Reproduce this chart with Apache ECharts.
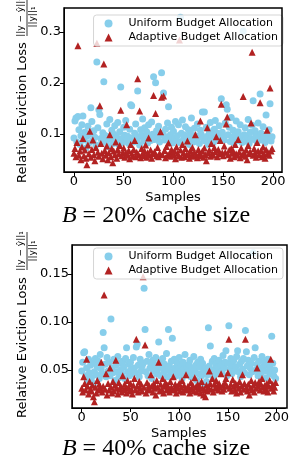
<!DOCTYPE html>
<html>
<head>
<meta charset="utf-8">
<script src="https://cdn.jsdelivr.net/npm/echarts@6.0.0/dist/echarts.min.js"></script>
<style>
body {
	margin: 0;
	background-color: #fff;
}
#main {
	width: 292px;
	height: 470px;
}
</style>
</head>
<body>
<div id="main"></div>
<script>

// relative eviction loss per sample
var uniform20 = [
  0.092, 0.125, 0.131, 0.084, 0.134, 0.108, 0.079, 0.096, 0.118, 0.135,
  0.088, 0.103, 0.072, 0.095, 0.115, 0.082, 0.099, 0.151, 0.124, 0.087,
  0.106, 0.093, 0.078, 0.241, 0.112, 0.147, 0.138, 0.091, 0.083, 0.102,
  0.202, 0.097, 0.086, 0.119, 0.075, 0.094, 0.128, 0.089, 0.107, 0.081,
  0.099, 0.116, 0.085, 0.093, 0.122, 0.079, 0.104, 0.192, 0.091, 0.083,
  0.113, 0.097, 0.126, 0.088, 0.095, 0.081, 0.109, 0.157, 0.155, 0.092,
  0.084, 0.101, 0.119, 0.087, 0.184, 0.094, 0.078, 0.108, 0.097, 0.129,
  0.086, 0.112, 0.091, 0.104, 0.082, 0.118, 0.095, 0.087, 0.123, 0.099,
  0.212, 0.089, 0.200, 0.106, 0.093, 0.115, 0.084, 0.097, 0.220, 0.101,
  0.180, 0.088, 0.109, 0.094, 0.121, 0.153, 0.086, 0.098, 0.113, 0.082,
  0.105, 0.092, 0.124, 0.087, 0.096, 0.118, 0.083, 0.329, 0.101, 0.127,
  0.089, 0.097, 0.114, 0.085, 0.093, 0.108, 0.079, 0.102, 0.131, 0.091,
  0.084, 0.111, 0.096, 0.088, 0.119, 0.094, 0.081, 0.107, 0.098, 0.143,
  0.092, 0.143, 0.086, 0.113, 0.095, 0.079, 0.104, 0.122, 0.089, 0.097,
  0.083, 0.109, 0.126, 0.091, 0.101, 0.087, 0.116, 0.094, 0.169, 0.103,
  0.096, 0.088, 0.121, 0.157, 0.148, 0.098, 0.113, 0.085, 0.132, 0.093,
  0.107, 0.082, 0.099, 0.125, 0.091, 0.104, 0.087, 0.118, 0.095, 0.083,
  0.302, 0.098, 0.112, 0.086, 0.094, 0.128, 0.081, 0.103, 0.091, 0.117,
  0.165, 0.089, 0.106, 0.097, 0.084, 0.121, 0.093, 0.178, 0.101, 0.088,
  0.114, 0.095, 0.083, 0.137, 0.099, 0.092, 0.108, 0.159, 0.086, 0.094
];
var adaptive20 = [
  0.062, 0.071, 0.055, 0.083, 0.273, 0.058, 0.066, 0.049, 0.074, 0.091,
  0.057, 0.068, 0.052, 0.039, 0.078, 0.061, 0.105, 0.054, 0.069, 0.088,
  0.059, 0.047, 0.073, 0.278, 0.064, 0.056, 0.155, 0.081, 0.062, 0.051,
  0.237, 0.067, 0.058, 0.076, 0.049, 0.063, 0.098, 0.055, 0.071, 0.043,
  0.066, 0.059, 0.084, 0.052, 0.069, 0.061, 0.077, 0.146, 0.057, 0.064,
  0.072, 0.054, 0.063, 0.118, 0.058, 0.067, 0.051, 0.079, 0.062, 0.056,
  0.069, 0.087, 0.055, 0.064, 0.208, 0.059, 0.145, 0.053, 0.071, 0.062,
  0.057, 0.066, 0.078, 0.054, 0.063, 0.092, 0.058, 0.068, 0.052, 0.061,
  0.175, 0.065, 0.140, 0.057, 0.073, 0.055, 0.062, 0.104, 0.172, 0.059,
  0.174, 0.067, 0.053, 0.075, 0.058, 0.082, 0.061, 0.056, 0.069, 0.063,
  0.058, 0.066, 0.051, 0.074, 0.062, 0.057, 0.284, 0.068, 0.054, 0.079,
  0.063, 0.055, 0.071, 0.059, 0.086, 0.061, 0.052, 0.067, 0.058, 0.073,
  0.056, 0.064, 0.098, 0.059, 0.053, 0.069, 0.061, 0.125, 0.057, 0.066,
  0.054, 0.072, 0.059, 0.047, 0.112, 0.063, 0.068, 0.056, 0.081, 0.061,
  0.058, 0.073, 0.065, 0.094, 0.055, 0.069, 0.061, 0.087, 0.158, 0.063,
  0.057, 0.076, 0.064, 0.119, 0.133, 0.059, 0.068, 0.052, 0.071, 0.062,
  0.066, 0.055, 0.079, 0.061, 0.058, 0.089, 0.064, 0.053, 0.072, 0.059,
  0.173, 0.063, 0.056, 0.068, 0.049, 0.077, 0.061, 0.065, 0.121, 0.260,
  0.058, 0.071, 0.062, 0.054, 0.083, 0.066, 0.059, 0.161, 0.067, 0.055,
  0.074, 0.061, 0.052, 0.069, 0.107, 0.063, 0.058, 0.190, 0.066, 0.071
];
var uniform40 = [
  0.049, 0.058, 0.068, 0.069, 0.044, 0.052, 0.039, 0.061, 0.047, 0.055,
  0.042, 0.057, 0.036, 0.048, 0.062, 0.045, 0.053, 0.059, 0.041, 0.066,
  0.051, 0.046, 0.089, 0.073, 0.056, 0.043, 0.063, 0.049, 0.058, 0.044,
  0.103, 0.052, 0.047, 0.061, 0.039, 0.055, 0.048, 0.064, 0.042, 0.057,
  0.050, 0.045, 0.059, 0.053, 0.041, 0.062, 0.073, 0.048, 0.056, 0.044,
  0.058, 0.051, 0.046, 0.063, 0.052, 0.047, 0.074, 0.077, 0.055, 0.043,
  0.061, 0.049, 0.054, 0.057, 0.135, 0.092, 0.048, 0.059, 0.044, 0.066,
  0.052, 0.057, 0.041, 0.060, 0.049, 0.055, 0.063, 0.046, 0.051, 0.079,
  0.058, 0.044, 0.053, 0.062, 0.047, 0.056, 0.050, 0.067, 0.043, 0.092,
  0.054, 0.048, 0.059, 0.083, 0.046, 0.061, 0.052, 0.044, 0.057, 0.050,
  0.063, 0.047, 0.055, 0.041, 0.058, 0.051, 0.066, 0.045, 0.053, 0.049,
  0.056, 0.060, 0.043, 0.052, 0.047, 0.064, 0.050, 0.055, 0.039, 0.058,
  0.046, 0.053, 0.061, 0.044, 0.057, 0.049, 0.035, 0.052, 0.038, 0.045,
  0.094, 0.054, 0.075, 0.048, 0.059, 0.043, 0.062, 0.051, 0.056, 0.046,
  0.053, 0.060, 0.047, 0.055, 0.049, 0.065, 0.052, 0.058, 0.070, 0.044,
  0.057, 0.096, 0.051, 0.062, 0.046, 0.055, 0.060, 0.049, 0.053, 0.064,
  0.070, 0.048, 0.056, 0.043, 0.059, 0.051, 0.062, 0.047, 0.091, 0.069,
  0.054, 0.060, 0.045, 0.052, 0.057, 0.048, 0.172, 0.063, 0.073, 0.050,
  0.056, 0.044, 0.059, 0.051, 0.047, 0.064, 0.053, 0.049, 0.058, 0.042,
  0.055, 0.061, 0.048, 0.052, 0.046, 0.085, 0.057, 0.044, 0.050, 0.041
];
var adaptive40 = [
  0.031, 0.027, 0.043, 0.036, 0.029, 0.061, 0.033, 0.025, 0.038, 0.030,
  0.028, 0.034, 0.022, 0.017, 0.032, 0.026, 0.039, 0.029, 0.035, 0.031,
  0.058, 0.027, 0.033, 0.128, 0.030, 0.046, 0.024, 0.036, 0.029, 0.052,
  0.032, 0.026, 0.038, 0.028, 0.034, 0.060, 0.031, 0.025, 0.037, 0.030,
  0.033, 0.027, 0.044, 0.029, 0.035, 0.031, 0.026, 0.039, 0.032, 0.028,
  0.036, 0.030, 0.025, 0.034, 0.041, 0.029, 0.082, 0.033, 0.027, 0.038,
  0.031, 0.035, 0.028, 0.147, 0.032, 0.076, 0.026, 0.037, 0.030, 0.034,
  0.029, 0.045, 0.033, 0.027, 0.036, 0.031, 0.024, 0.039, 0.032, 0.058,
  0.028, 0.035, 0.030, 0.041, 0.026, 0.033, 0.037, 0.029, 0.034, 0.031,
  0.027, 0.038, 0.032, 0.029, 0.043, 0.030, 0.035, 0.026, 0.033, 0.031,
  0.036, 0.028, 0.032, 0.039, 0.027, 0.034, 0.030, 0.045, 0.029, 0.033,
  0.031, 0.026, 0.037, 0.030, 0.034, 0.028, 0.042, 0.032, 0.027, 0.035,
  0.030, 0.033, 0.026, 0.038, 0.031, 0.024, 0.029, 0.022, 0.034, 0.028,
  0.032, 0.049, 0.036, 0.030, 0.041, 0.027, 0.035, 0.031, 0.039, 0.033,
  0.029, 0.036, 0.032, 0.046, 0.028, 0.034, 0.030, 0.037, 0.041, 0.033,
  0.047, 0.082, 0.031, 0.035, 0.028, 0.040, 0.033, 0.029, 0.036, 0.026,
  0.034, 0.031, 0.038, 0.027, 0.033, 0.045, 0.030, 0.036, 0.082, 0.032,
  0.028, 0.035, 0.024, 0.031, 0.039, 0.029, 0.034, 0.027, 0.037, 0.031,
  0.052, 0.033, 0.038, 0.029, 0.035, 0.041, 0.032, 0.028, 0.034, 0.030,
  0.036, 0.027, 0.033, 0.039, 0.061, 0.031, 0.035, 0.028, 0.032, 0.037
];

var xTicks = [0, 50, 100, 150, 200];
var yTicks20 = [0.1, 0.2, 0.3];
var yTicks40 = [0.05, 0.10, 0.15];
var names = ['Uniform Budget Allocation', 'Adaptive Budget Allocation'];

var blue = '#87CEEB';
var red = '#B22222';

// plot boxes, pixels
var box20 = { left: 64, top: 8, width: 218, height: 164 };
var box40 = { left: 72, top: 245, width: 215, height: 163 };

function pts(arr) {
    return arr.map(function (v, i) { return [i, v]; });
}

var chart = echarts.init(document.getElementById('main'));

function xAxisFor(grid) {
    return {
        type: 'value',
        gridIndex: grid,
        min: -10,
        max: 209,
        name: 'Samples',
        nameLocation: 'middle',
        nameGap: 19,
        nameTextStyle: { fontFamily: 'DejaVu Sans', fontSize: 13, color: '#000' },
        axisLine: { show: true, onZero: false, lineStyle: { color: '#000' } },
        axisTick: { show: true, length: 4, customValues: xTicks, lineStyle: { color: '#000' } },
        axisLabel: { show: true, customValues: xTicks, margin: 3, fontFamily: 'DejaVu Sans', fontSize: 13, color: '#000' },
        splitLine: { show: false }
    };
}

function yAxisFor(grid, min, max, ticks, digits, shift) {
    return {
        type: 'value',
        gridIndex: grid,
        min: min,
        max: max,
        name: 'Relative Eviction Loss',
        nameLocation: 'middle',
        nameGap: 32,
        nameTextStyle: { fontFamily: 'DejaVu Sans', fontSize: 13, color: '#000', padding: [0, shift, 0, 0] },
        axisLine: { show: true, onZero: false, lineStyle: { color: '#000' } },
        axisTick: { show: true, length: 4, customValues: ticks, lineStyle: { color: '#000' } },
        axisLabel: {
            customValues: ticks,
            margin: 3,
            fontFamily: 'DejaVu Sans',
            fontSize: 13,
            color: '#000',
            formatter: function (v) { return v.toFixed(digits); }
        },
        splitLine: { show: false }
    };
}

function legendFor(top) {
    return {
        orient: 'vertical',
        right: 9,
        top: top,
        itemWidth: 8,
        itemHeight: 8,
        itemGap: 3,
        padding: [3, 5, 3, 11],
        backgroundColor: 'rgba(255,255,255,0.8)',
        borderColor: '#d5d5d5',
        borderWidth: 1,
        borderRadius: 3,
        textStyle: { fontFamily: 'DejaVu Sans', fontSize: 11, color: '#000', padding: [0, 0, 0, 11] },
        data: [
            { name: names[0], icon: 'circle' },
            { name: names[1], icon: 'triangle' }
        ]
    };
}

// black box round each plot, like the matplotlib spines
function frame(b) {
    return {
        type: 'rect',
        z: 10,
        silent: true,
        shape: { x: b.left, y: b.top, width: b.width, height: b.height },
        style: { fill: 'none', stroke: '#000', lineWidth: 1.5 }
    };
}

function fraction(x, y) {
    return {
        type: 'group',
        x: x,
        y: y,
        rotation: Math.PI / 2,
        children: [
            { type: 'text', x: 0, y: -6, style: { text: '||y − ŷ||₁', align: 'center', verticalAlign: 'middle', fontFamily: 'DejaVu Sans', fontSize: 9, fill: '#000' } },
            { type: 'line', shape: { x1: -19, y1: 0, x2: 19, y2: 0 }, style: { stroke: '#000', lineWidth: 0.8 } },
            { type: 'text', x: 0, y: 6, style: { text: '||y||₁', align: 'center', verticalAlign: 'middle', fontFamily: 'DejaVu Sans', fontSize: 9, fill: '#000' } }
        ]
    };
}

var titleStyle = {
    fontFamily: 'Liberation Serif',
    fontSize: 24,
    fontWeight: 'normal',
    color: '#000',
    rich: {
        i: { fontFamily: 'Liberation Serif', fontSize: 24, fontStyle: 'italic', color: '#000' }
    }
};

option = {
    animation: false,
    title: [
        { text: '{i|B} = 20% cache size', left: 156, top: 204, textAlign: 'center', padding: 0, textStyle: titleStyle },
        { text: '{i|B} = 40% cache size', left: 156, top: 437, textAlign: 'center', padding: 0, textStyle: titleStyle }
    ],
    legend: [legendFor(15), legendFor(248)],
    grid: [box20, box40],
    xAxis: [xAxisFor(0), xAxisFor(1)],
    yAxis: [
        yAxisFor(0, 0.025, 0.347, yTicks20, 1, 45),
        yAxisFor(1, 0.0104, 0.180, yTicks40, 2, 42)
    ],
    graphic: [frame(box20), frame(box40), fraction(27, 17), fraction(27, 251)],
    series: [
        { name: names[0], type: 'scatter', xAxisIndex: 0, yAxisIndex: 0, symbol: 'circle', symbolSize: 7, itemStyle: { color: blue, opacity: 1 }, data: pts(uniform20) },
        { name: names[1], type: 'scatter', xAxisIndex: 0, yAxisIndex: 0, symbol: 'triangle', symbolSize: 7, itemStyle: { color: red, opacity: 1 }, data: pts(adaptive20) },
        { name: names[0], type: 'scatter', xAxisIndex: 1, yAxisIndex: 1, symbol: 'circle', symbolSize: 7, itemStyle: { color: blue, opacity: 1 }, data: pts(uniform40) },
        { name: names[1], type: 'scatter', xAxisIndex: 1, yAxisIndex: 1, symbol: 'triangle', symbolSize: 7, itemStyle: { color: red, opacity: 1 }, data: pts(adaptive40) }
    ]
};

chart.setOption(option);

</script>
</body>
</html>
